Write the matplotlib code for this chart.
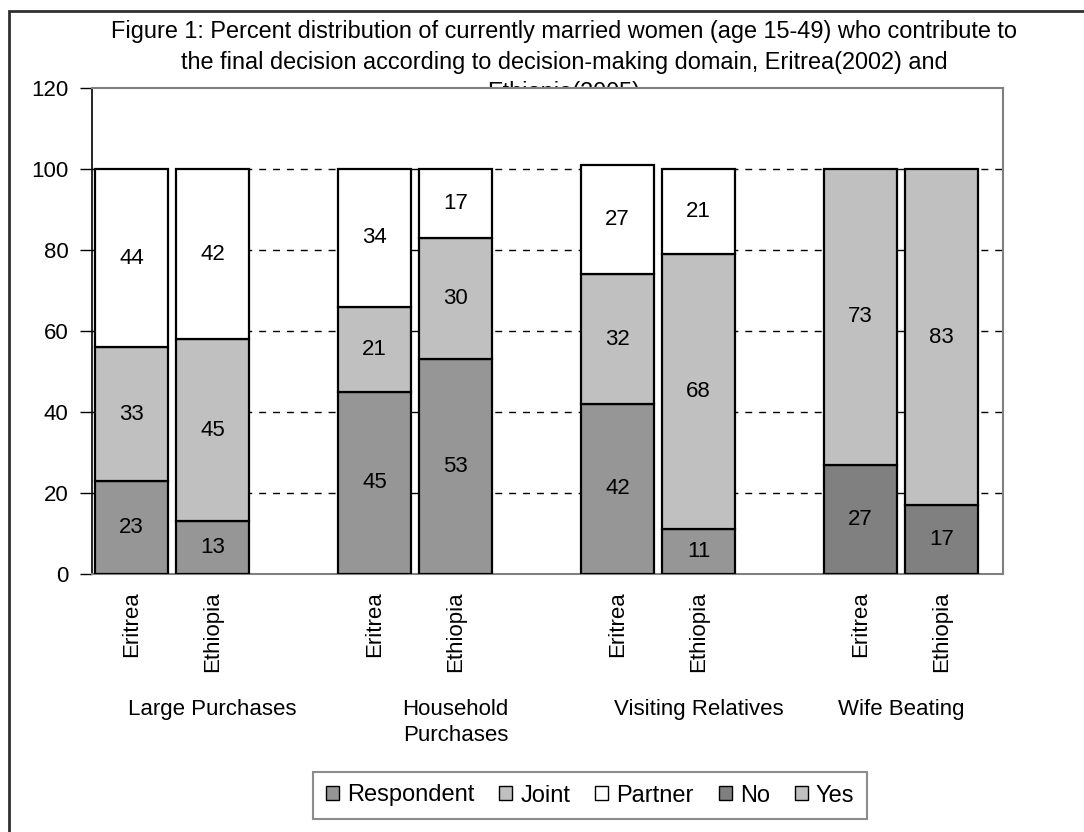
import numpy as np
import matplotlib
matplotlib.use("Agg")
import matplotlib.pyplot as plt
from matplotlib.patches import Rectangle, Patch

plt.rcParams['font.family'] = ['Liberation Sans', 'DejaVu Sans']

# Decision-making domains and the two surveys shown in each
domains = ["Large Purchases", "Household\nPurchases", "Visiting Relatives", "Wife Beating"]
countries = ["Eritrea", "Ethiopia"]

# Percent of women per answer, ordered domain by domain (Eritrea, Ethiopia)
respondent = [23, 13, 45, 53, 42, 11, np.nan, np.nan]
joint      = [33, 45, 21, 30, 32, 68, np.nan, np.nan]
partner    = [44, 42, 34, 17, 27, 21, np.nan, np.nan]
no_share   = [np.nan, np.nan, np.nan, np.nan, np.nan, np.nan, 27, 17]
yes_share  = [np.nan, np.nan, np.nan, np.nan, np.nan, np.nan, 73, 83]

series_names = ["Respondent", "Joint", "Partner", "No", "Yes"]
series_vals = [respondent, joint, partner, no_share, yes_share]
series_colors = ["#969696", "#c0c0c0", "#ffffff", "#808080", "#c0c0c0"]

y_ticks = [0, 20, 40, 60, 80, 100, 120]

title = ("Figure 1: Percent distribution of currently married women (age 15-49) who contribute to\n"
         "the final decision according to decision-making domain, Eritrea(2002) and\n"
         "Ethiopia(2005)")

W, H = 1084, 832
fig = plt.figure(figsize=(W / 100, H / 100), dpi=100)
fig.patch.set_facecolor("white")

# outer frame of the chart object
fig.add_artist(Rectangle((9 / W, -0.05), 1.2, 1 - 11 / H + 0.05, transform=fig.transFigure,
                         fill=False, edgecolor="#303030", linewidth=2, zorder=-5))

# title sits behind the plot area, so its last line is partly covered
fig.text(564 / W, 1 - 20 / H, title, ha="center", va="top", fontsize=16.9,
         linespacing=1.43, zorder=-2)

ax = fig.add_axes([92 / W, 1 - 574 / H, (1003 - 92) / W, (574 - 88) / H])
ax.set_facecolor("white")

# category slots: each domain takes two bars plus a spacer slot (none after the last)
group_slots = [3, 3, 3, 2]
xpos, label_x = [], []
start = 0
for n_slots in group_slots:
    xpos += [start, start + 1]
    label_x.append(start + (n_slots - 1) / 2)
    start += n_slots
xpos = np.array(xpos, dtype=float)
width = 0.9

bottom = np.zeros(len(xpos))
for name, vals, col in zip(series_names, series_vals, series_colors):
    vals = np.array(vals, dtype=float)
    mask = ~np.isnan(vals)
    ax.bar(xpos[mask], vals[mask], width=width, bottom=bottom[mask], color=col,
           edgecolor="black", linewidth=1.6, zorder=3)
    for x, b, v in zip(xpos[mask], bottom[mask], vals[mask]):
        ax.text(x, b + v / 2, f"{v:.0f}", ha="center", va="center", fontsize=16, zorder=4)
    bottom[mask] += vals[mask]

ax.set_xlim(-0.488, 10.76)
ax.set_ylim(0, 120)
ax.set_yticks(y_ticks)
ax.set_yticklabels([str(t) for t in y_ticks], fontsize=16)
ax.tick_params(axis="y", direction="out", length=9, width=1, pad=8)
ax.set_xticks([])

for t in y_ticks[1:-1]:
    ax.axhline(t, color="black", linestyle=(0, (5, 5)), linewidth=1, zorder=1)

ax.spines["left"].set_color("black")
ax.spines["left"].set_linewidth(1.2)
for s in ["top", "right", "bottom"]:
    ax.spines[s].set_color("#808080")
    ax.spines[s].set_linewidth(1.5)

# country labels under each bar
for i, x in enumerate(xpos):
    ax.text(x, -4.3, countries[i % 2], rotation=90, ha="center", va="top",
            fontsize=16, clip_on=False)

# domain labels below the country labels
for lx, d in zip(label_x, domains):
    ax.text(lx, -30.9, d, ha="center", va="top", fontsize=16,
            linespacing=1.3, clip_on=False)

handles = [Patch(facecolor=c, edgecolor="black", linewidth=1) for c in series_colors]
leg = fig.legend(handles, series_names, loc="center", bbox_to_anchor=(590 / W, 1 - 795.5 / H),
                 ncol=5, fontsize=17, frameon=True, fancybox=False, handlelength=0.55,
                 handleheight=0.55, handletextpad=0.34, columnspacing=1.06,
                 borderpad=0.55)
leg.get_frame().set_edgecolor("#707070")
leg.get_frame().set_linewidth(1.5)

fig.savefig("out.png", dpi=100)
